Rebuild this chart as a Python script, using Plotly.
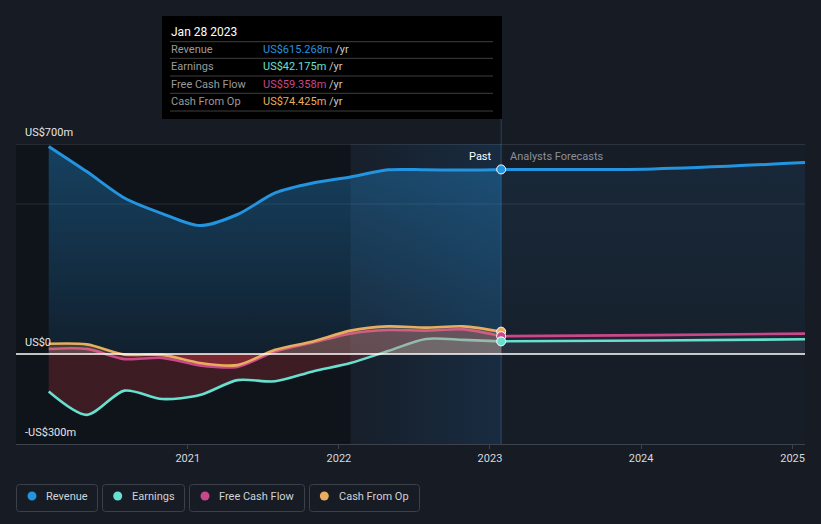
import plotly.graph_objects as go

# ---------------- data ----------------
past_dates = ["2020-01-31", "2020-05-02", "2020-08-01", "2020-10-31", "2021-01-30",
              "2021-05-01", "2021-07-31", "2021-10-30", "2022-01-29", "2022-04-30",
              "2022-07-30", "2022-10-29", "2023-01-28"]
revenue_past = [692, 608, 520, 468, 428, 465, 537, 570, 590, 614, 614, 613, 615.268]
earnings_past = [-125, -203, -122, -150, -137, -87, -91, -58, -30, 10, 50, 47, 42.175]
fcf_past = [17, 17, -17, -13, -38, -43, 8, 38, 68, 80, 78, 82, 59.358]
cfo_past = [34, 32, -2, -3, -30, -37, 14, 42, 78, 92, 88, 92, 74.425]

forecast_dates = ["2023-01-28", "2024-01-31", "2025-01-31"]
revenue_fc = [615.268, 617, 638]
earnings_fc = [42.175, 45, 49]
fcf_fc = [59.358, 63, 68]

series_names = ["Revenue", "Earnings", "Free Cash Flow", "Cash From Op"]
tooltip_date = "Jan 28 2023"
tick_vals = ["2021-01-01", "2022-01-01", "2023-01-01", "2024-01-01", "2025-01-01"]
tick_text = ["2021", "2022", "2023", "2024", "2025"]
y_labels = [(700, "US$700m"), (0, "US$0"), (-300, "-US$300m")]
X_RANGE = ["2019-11-13", "2025-01-31"]
Y_MIN, Y_MAX = -300, 700
band_start = "2022-01-29"

# ---------------- style ----------------
REV = "#2394e0"
EARN = "#67e0cf"
FCF = "#c8488a"
CFO = "#e9ad5f"
colors = [REV, EARN, FCF, CFO]
FONT = "Roboto"
PAPER = "#161b24"
PLOT = "#171d27"

W, H = 821, 524
PL, PR, PT, PB = 16, 805, 144, 444


def xp(px):
    return (px - PL) / (PR - PL)


def yp(py):
    return (PB - py) / (PB - PT)


def rgba(hexc, a):
    h = hexc.lstrip("#")
    r, g, b = int(h[0:2], 16), int(h[2:4], 16), int(h[4:6], 16)
    return f"rgba({r},{g},{b},{a})"


zf = (0 - Y_MIN) / (Y_MAX - Y_MIN)
RED_NEG = "rgba(205,55,65,0.24)"


def split_grad(col, a):
    return dict(type="vertical", start=Y_MIN, stop=Y_MAX,
                colorscale=[[0, RED_NEG], [zf, RED_NEG],
                            [zf + 0.0001, rgba(col, a)], [1, rgba(col, a)]])


fig = go.Figure()

# band highlighting last year of past data (horizontal gradient)
fig.add_trace(go.Scatter(
    x=[band_start, past_dates[-1], past_dates[-1], band_start, band_start],
    y=[Y_MIN, Y_MIN, Y_MAX, Y_MAX, Y_MIN], mode="none", fill="toself",
    fillgradient=dict(type="horizontal",
                      colorscale=[[0, "rgba(30,120,200,0.02)"], [1, "rgba(30,130,210,0.15)"]]),
    hoverinfo="skip", showlegend=False))

# revenue past
fig.add_trace(go.Scatter(
    x=past_dates, y=revenue_past, mode="lines",
    line=dict(color=REV, width=3, shape="spline", smoothing=0.8),
    fill="tozeroy",
    fillgradient=dict(type="vertical", start=0, stop=Y_MAX,
                      colorscale=[[0, rgba(REV, 0.10)], [1, rgba(REV, 0.36)]]),
    hoverinfo="skip", showlegend=False))
# revenue forecast
fig.add_trace(go.Scatter(
    x=forecast_dates, y=revenue_fc, mode="lines",
    line=dict(color=REV, width=3, shape="spline", smoothing=0.8),
    fill="tozeroy",
    fillgradient=dict(type="vertical", start=0, stop=Y_MAX,
                      colorscale=[[0, rgba(REV, 0.03)], [1, rgba(REV, 0.10)]]),
    hoverinfo="skip", showlegend=False))

# past earnings / fcf / cfo
for vals, col in [(earnings_past, EARN), (fcf_past, FCF), (cfo_past, CFO)]:
    fig.add_trace(go.Scatter(
        x=past_dates, y=vals, mode="lines",
        line=dict(color=col, width=2.6, shape="spline", smoothing=0.8),
        fill="tozeroy", fillgradient=split_grad(col, 0.22),
        hoverinfo="skip", showlegend=False))

# forecasts
for vals, col in [(fcf_fc, FCF), (earnings_fc, EARN)]:
    fig.add_trace(go.Scatter(
        x=forecast_dates, y=vals, mode="lines",
        line=dict(color=col, width=2.6, shape="spline", smoothing=0.8),
        fill="tozeroy", fillgradient=split_grad(col, 0.07),
        hoverinfo="skip", showlegend=False))

# end-of-past markers
for vals, col in [(revenue_past, REV), (cfo_past, CFO), (fcf_past, FCF), (earnings_past, EARN)]:
    fig.add_trace(go.Scatter(
        x=[past_dates[-1]], y=[vals[-1]], mode="markers",
        marker=dict(size=9, color=col, line=dict(color="white", width=1)),
        hoverinfo="skip", showlegend=False))

shapes = []
# darker region before band
shapes.append(dict(type="rect", xref="x", yref="paper", x0=X_RANGE[0], x1=band_start,
                   y0=0, y1=1, fillcolor="rgba(0,0,0,0.32)", line=dict(width=0), layer="below"))
# gridlines
shapes.append(dict(type="line", xref="paper", yref="y", x0=0, x1=1, y0=700, y1=700,
                   line=dict(color="rgba(255,255,255,0.2)", width=1), layer="below"))
shapes.append(dict(type="line", xref="paper", yref="y", x0=0, x1=1, y0=500, y1=500,
                   line=dict(color="rgba(255,255,255,0.1)", width=1), layer="below"))
# vertical "now" line
shapes.append(dict(type="line", xref="x", yref="paper", x0=past_dates[-1], x1=past_dates[-1],
                   y0=0, y1=yp(16), line=dict(color="rgba(90,140,190,0.35)", width=1), layer="below"))
# zero line
shapes.append(dict(type="line", xref="paper", yref="y", x0=0, x1=1, y0=0, y1=0,
                   line=dict(color="white", width=1.4), layer="above"))

# tooltip box
shapes.append(dict(type="rect", xref="paper", yref="paper", x0=xp(162), x1=xp(502),
                   y0=yp(119), y1=yp(16), fillcolor="#000000", line=dict(width=0), layer="above"))
for sy in [41.7, 58.3, 76, 93.3, 111]:
    shapes.append(dict(type="line", xref="paper", yref="paper", x0=xp(170), x1=xp(493),
                       y0=yp(sy), y1=yp(sy), line=dict(color="#3f3f3f", width=1), layer="above"))

annotations = []
annotations.append(dict(xref="paper", yref="paper", x=xp(169), y=yp(31.5), xanchor="left",
                        yanchor="middle", text=tooltip_date, showarrow=False,
                        font=dict(family=FONT, size=12, color="white")))
tip_vals = [revenue_past[-1], earnings_past[-1], fcf_past[-1], cfo_past[-1]]
for name, v, col, ry in zip(series_names, tip_vals, colors, [49.3, 66.5, 84, 101]):
    annotations.append(dict(xref="paper", yref="paper", x=xp(169), y=yp(ry), xanchor="left",
                            yanchor="middle", text=name, showarrow=False,
                            font=dict(family=FONT, size=11, color="#9a9a9a")))
    annotations.append(dict(xref="paper", yref="paper", x=xp(261), y=yp(ry), xanchor="left",
                            yanchor="middle",
                            text=f"<span style='color:{col}'>US${v:.3f}m</span> /yr",
                            showarrow=False, font=dict(family=FONT, size=11, color="#c8c8c8")))

# y labels
for v, t in y_labels:
    annotations.append(dict(xref="paper", yref="y", x=xp(23), y=v, xanchor="left",
                            yanchor="middle", yshift=12, text=t, showarrow=False,
                            font=dict(family=FONT, size=11, color="#e6e6e6")))

# past / forecast labels
annotations.append(dict(xref="x", yref="paper", x=past_dates[-1], y=yp(156), xanchor="right",
                        yanchor="middle", xshift=-7, text="Past", showarrow=False,
                        font=dict(family=FONT, size=11, color="white")))
annotations.append(dict(xref="x", yref="paper", x=past_dates[-1], y=yp(156), xanchor="left",
                        yanchor="middle", xshift=7, text="Analysts Forecasts", showarrow=False,
                        font=dict(family=FONT, size=11, color="#8b9099")))

# legend (manual pills)
boxes = [(16.5, 97.5), (102.5, 184.5), (189.5, 304.5), (309.5, 419.5)]
dots = [32, 117.7, 205, 324.3]
texts_x = [44, 130, 217, 337]
by0, by1 = 484.5, 511.5
r = 3
for (bx0, bx1), dx, tx, name, col in zip(boxes, dots, texts_x, series_names, colors):
    rx, ry_ = r / (PR - PL), r / (PB - PT)
    X0, X1, Y0, Y1 = xp(bx0), xp(bx1), yp(by1), yp(by0)
    path = (f"M {X0+rx},{Y0} L {X1-rx},{Y0} Q {X1},{Y0} {X1},{Y0+ry_} "
            f"L {X1},{Y1-ry_} Q {X1},{Y1} {X1-rx},{Y1} L {X0+rx},{Y1} "
            f"Q {X0},{Y1} {X0},{Y1-ry_} L {X0},{Y0+ry_} Q {X0},{Y0} {X0+rx},{Y0} Z")
    shapes.append(dict(type="path", xref="paper", yref="paper", path=path,
                       line=dict(color="#3b404a", width=1), fillcolor="rgba(0,0,0,0)"))
    shapes.append(dict(type="circle", xref="paper", yref="paper",
                       x0=xp(dx - 4.5), x1=xp(dx + 4.5), y0=yp(496 + 4.5), y1=yp(496 - 4.5),
                       fillcolor=col, line=dict(width=0)))
    annotations.append(dict(xref="paper", yref="paper", x=xp(tx), y=yp(496.5), xanchor="left",
                            yanchor="middle", text=name, showarrow=False,
                            font=dict(family=FONT, size=11, color="#cfd3d9")))

fig.update_layout(
    width=W, height=H,
    margin=dict(l=PL, r=W - PR, t=PT, b=H - PB, pad=0),
    paper_bgcolor=PAPER, plot_bgcolor=PLOT,
    font=dict(family=FONT, size=11, color="#d0d4da"),
    showlegend=False,
    shapes=shapes, annotations=annotations,
    xaxis=dict(type="date", range=X_RANGE, tickvals=tick_vals, ticktext=tick_text,
               showgrid=False, zeroline=False, showline=True, linecolor="#3d424c", linewidth=1,
               ticks="outside", ticklen=4, tickcolor="#3d424c",
               tickfont=dict(family=FONT, size=11, color="#d6d9de"), fixedrange=True),
    yaxis=dict(range=[Y_MIN, Y_MAX], showgrid=False, zeroline=False, showticklabels=False,
               fixedrange=True),
)

fig.write_html("out.html", config={"displayModeBar": False},
               post_script="document.body.style.margin='0';document.body.style.background='#161b24';")
